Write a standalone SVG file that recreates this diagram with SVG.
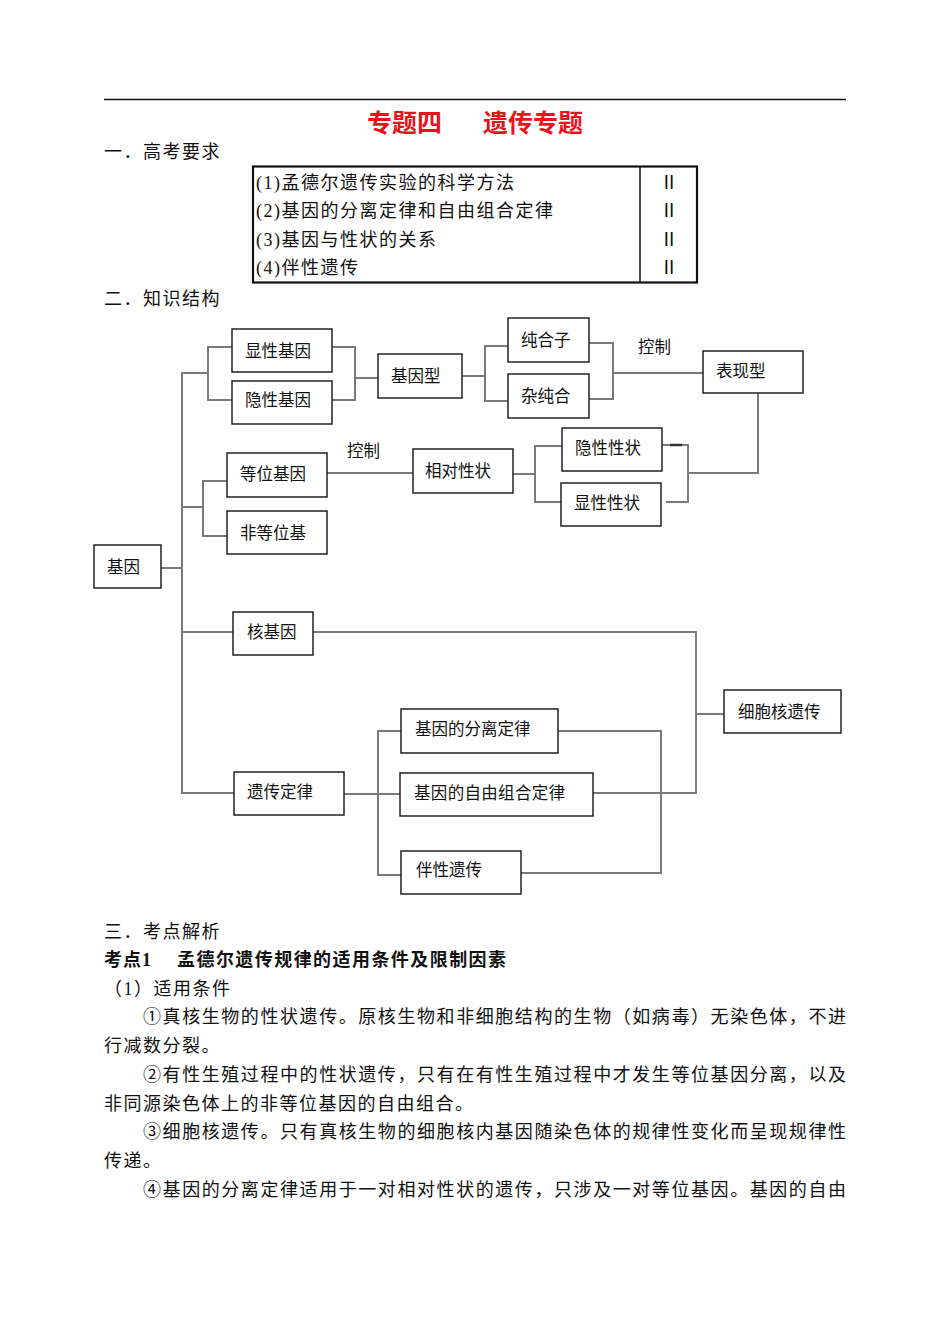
<svg xmlns="http://www.w3.org/2000/svg" width="950" height="1342" viewBox="0 0 950 1342">
<style>
.bg{fill:#fff}
.box{fill:#fff;stroke:#222;stroke-width:1.5}
.con{fill:none;stroke:#7a7a7a;stroke-width:2}
.lbl{font-family:"Noto Sans CJK SC","Liberation Sans",sans-serif;font-size:16.5px;fill:#111}
.body{font-family:"Liberation Serif","Noto Sans CJK SC",serif;font-size:18px;fill:#111}
.title{font-family:"Liberation Sans","Noto Sans CJK SC",sans-serif;font-size:25px;font-weight:bold;fill:#e8141c}
.bold{font-weight:bold}
</style>
<rect class="bg" x="0" y="0" width="950" height="1342"/>
<line x1="104" y1="99.5" x2="846" y2="99.5" stroke="#111" stroke-width="1.5"/>
<text class="title" x="367" y="132">专题四</text>
<text class="title" x="483" y="132">遗传专题</text>
<text class="body" x="104" y="158" letter-spacing="1.5">一．高考要求</text>

<g id="table">
<rect x="253" y="166.5" width="444" height="116" fill="none" stroke="#111" stroke-width="2.2"/>
<line x1="640" y1="166.5" x2="640" y2="282.5" stroke="#111" stroke-width="1.5"/>
<text class="body" x="256" y="189" letter-spacing="1.5">(1)孟德尔遗传实验的科学方法</text>
<text class="body" x="256" y="217" letter-spacing="1.5">(2)基因的分离定律和自由组合定律</text>
<text class="body" x="256" y="246" letter-spacing="1.5">(3)基因与性状的关系</text>
<text class="body" x="256" y="274" letter-spacing="1.5">(4)伴性遗传</text>
<text class="body" x="669" y="189" text-anchor="middle">Ⅱ</text>
<text class="body" x="669" y="217" text-anchor="middle">Ⅱ</text>
<text class="body" x="669" y="246" text-anchor="middle">Ⅱ</text>
<text class="body" x="669" y="274" text-anchor="middle">Ⅱ</text>
</g>

<text class="body" x="104" y="305" letter-spacing="1.5">二．知识结构</text>

<g id="connectors">
<polyline class="con" points="208,347 208,373 182,373 182,793 234,793"/>
<line class="con" x1="161" y1="568" x2="182" y2="568"/>
<polyline class="con" points="232,347 208,347 208,400 232,400"/>
<polyline class="con" points="332,347 355,347 355,400 332,400"/>
<line class="con" x1="355" y1="378" x2="378" y2="378"/>
<line class="con" x1="462" y1="376" x2="485" y2="376"/>
<polyline class="con" points="508,346 485,346 485,401 508,401"/>
<polyline class="con" points="589,343 613,343 613,399 589,399"/>
<line class="con" x1="613" y1="373" x2="703" y2="373"/>
<line class="con" x1="182" y1="507" x2="203" y2="507"/>
<polyline class="con" points="227,481 203,481 203,536 227,536"/>
<line class="con" x1="327" y1="473" x2="413" y2="473"/>
<line class="con" x1="513" y1="474" x2="535" y2="474"/>
<polyline class="con" points="562,446 535,446 535,502 561,502"/>
<polyline class="con" points="659,445 688,445 688,502 666,502"/>
<line x1="670" y1="445" x2="682" y2="445" stroke="#333" stroke-width="2.5"/>
<polyline class="con" points="688,473 758,473 758,393"/>
<line class="con" x1="182" y1="632" x2="233" y2="632"/>
<polyline class="con" points="313,632 696,632 696,793 593,793"/>
<line class="con" x1="696" y1="714" x2="724" y2="714"/>
<line class="con" x1="344" y1="794" x2="400" y2="794"/>
<polyline class="con" points="401,731 378,731 378,875 401,875"/>
<polyline class="con" points="558,731 661,731 661,873 521,873"/>
</g>

<g id="n-xianxing"><rect class="box" x="232" y="329" width="100" height="43"/><text class="lbl" x="245" y="357">显性基因</text></g>
<g id="n-yinxing"><rect class="box" x="232" y="381" width="100" height="43"/><text class="lbl" x="245" y="406">隐性基因</text></g>
<g id="n-jiyinxing"><rect class="box" x="378" y="354" width="84" height="44"/><text class="lbl" x="391" y="382">基因型</text></g>
<g id="n-chunhezi"><rect class="box" x="508" y="318" width="81" height="44"/><text class="lbl" x="521" y="346">纯合子</text></g>
<g id="n-zachunhe"><rect class="box" x="508" y="374" width="81" height="44"/><text class="lbl" x="521" y="402">杂纯合</text></g>
<g id="n-kongzhi1"><text class="lbl" x="638" y="353">控制</text></g>
<g id="n-biaoxianxing"><rect class="box" x="703" y="351" width="100" height="42"/><text class="lbl" x="716" y="377">表现型</text></g>
<g id="n-kongzhi2"><text class="lbl" x="347" y="457">控制</text></g>
<g id="n-dengwei"><rect class="box" x="227" y="453" width="100" height="44"/><text class="lbl" x="240" y="480">等位基因</text></g>
<g id="n-feidengwei"><rect class="box" x="227" y="511" width="100" height="43"/><text class="lbl" x="240" y="539">非等位基</text></g>
<g id="n-xiangdui"><rect class="box" x="413" y="449" width="100" height="44"/><text class="lbl" x="425" y="477">相对性状</text></g>
<g id="n-yinxingxz"><rect class="box" x="562" y="428" width="100" height="43"/><text class="lbl" x="575" y="454">隐性性状</text></g>
<g id="n-xianxingxz"><rect class="box" x="561" y="483" width="100" height="43"/><text class="lbl" x="574" y="509">显性性状</text></g>
<g id="n-jiyin"><rect class="box" x="94" y="545" width="67" height="43"/><text class="lbl" x="107" y="573">基因</text></g>
<g id="n-hejiyin"><rect class="box" x="233" y="612" width="80" height="43"/><text class="lbl" x="247" y="638">核基因</text></g>
<g id="n-xibaohe"><rect class="box" x="724" y="690" width="117" height="43"/><text class="lbl" x="738" y="718">细胞核遗传</text></g>
<g id="n-fenli"><rect class="box" x="401" y="709" width="157" height="44"/><text class="lbl" x="415" y="735">基因的分离定律</text></g>
<g id="n-ziyou"><rect class="box" x="400" y="773" width="193" height="43"/><text class="lbl" x="414" y="799" textLength="151" lengthAdjust="spacing">基因的自由组合定律</text></g>
<g id="n-yichuan"><rect class="box" x="234" y="772" width="110" height="43"/><text class="lbl" x="247" y="798">遗传定律</text></g>
<g id="n-banxing"><rect class="box" x="401" y="851" width="120" height="43"/><text class="lbl" x="416" y="876">伴性遗传</text></g>

<g id="text-body">
<text class="body" x="104" y="938" letter-spacing="1.5">三．考点解析</text>
<text class="body bold" x="104" y="966" letter-spacing="1">考点1</text>
<text class="body bold" x="177" y="966" textLength="329" lengthAdjust="spacing">孟德尔遗传规律的适用条件及限制因素</text>
<text class="body" x="104" y="995" letter-spacing="1.5">（1）适用条件</text>
<text class="body" x="143" y="1023" textLength="703" lengthAdjust="spacing">①真核生物的性状遗传。原核生物和非细胞结构的生物（如病毒）无染色体，不进</text>
<text class="body" x="104" y="1052" letter-spacing="1.5">行减数分裂。</text>
<text class="body" x="143" y="1081" textLength="703" lengthAdjust="spacing">②有性生殖过程中的性状遗传，只有在有性生殖过程中才发生等位基因分离，以及</text>
<text class="body" x="104" y="1110" letter-spacing="1.5">非同源染色体上的非等位基因的自由组合。</text>
<text class="body" x="143" y="1138" textLength="703" lengthAdjust="spacing">③细胞核遗传。只有真核生物的细胞核内基因随染色体的规律性变化而呈现规律性</text>
<text class="body" x="104" y="1167" letter-spacing="1.5">传递。</text>
<text class="body" x="143" y="1196" textLength="703" lengthAdjust="spacing">④基因的分离定律适用于一对相对性状的遗传，只涉及一对等位基因。基因的自由</text>
</g>
</svg>
